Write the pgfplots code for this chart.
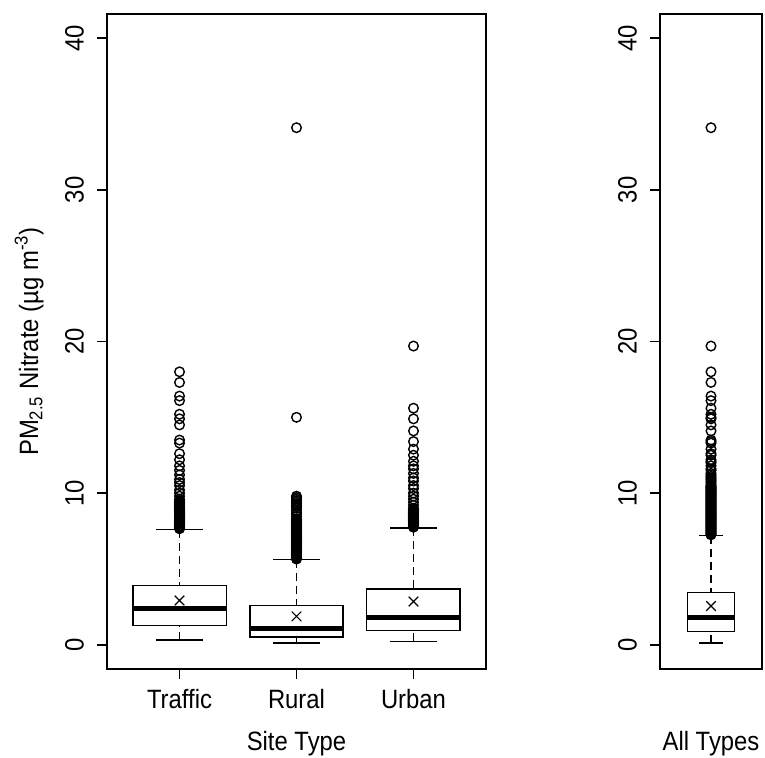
\documentclass[border=0pt]{standalone}
\usepackage{fontspec}
\setmainfont{Liberation Sans}[FakeStretch=0.9]
\usepackage{pgfplots}
\pgfplotsset{compat=1.18}
\usepgfplotslibrary{statistics}

\pgfplotsset{
  rstyle/.style={
    scale only axis,
    height=327.5bp,
    ymin=-1.6, ymax=41.6,
    ytick={0,10,20,30,40},
    tick align=outside,
    major tick length=5bp,
    xtick pos=bottom, ytick pos=left,
    axis line style={line width=0.8bp},
    every tick/.style={black, line width=0.8bp},
    /pgf/number format/assume math mode=true,
    yticklabel style={rotate=90, anchor=south},
    yticklabel shift=3bp,
    xticklabel style={anchor=north},
    xticklabel shift=1.5bp,
    xlabel style={at={(axis description cs:0.5,0)}, anchor=base, yshift=-40.5bp},
    ylabel shift=4bp,
    boxplot/draw direction=y,
    boxplot/every box/.style={line width=0.8bp},
    boxplot/every median/.style={line width=2.4bp},
    boxplot/draw/lower whisker/.code={%
      \draw[line width=0.8bp, dash pattern=on 4bp off 2.5bp]
        (boxplot box cs:\pgfplotsboxplotvalue{lower whisker},0.5) --
        (boxplot box cs:\pgfplotsboxplotvalue{lower quartile},0.5);
      \draw[line width=0.8bp]
        (boxplot whisker cs:\pgfplotsboxplotvalue{lower whisker},0) --
        (boxplot whisker cs:\pgfplotsboxplotvalue{lower whisker},1);
    },
    boxplot/draw/upper whisker/.code={%
      \draw[line width=0.8bp, dash pattern=on 4bp off 2.5bp]
        (boxplot box cs:\pgfplotsboxplotvalue{upper whisker},0.5) --
        (boxplot box cs:\pgfplotsboxplotvalue{upper quartile},0.5);
      \draw[line width=0.8bp]
        (boxplot whisker cs:\pgfplotsboxplotvalue{upper whisker},0) --
        (boxplot whisker cs:\pgfplotsboxplotvalue{upper whisker},1);
    },
  },
  outl/.style={black, solid, mark=o, mark size=2.4bp,
    mark options={solid, line width=0.7bp}},
  meanm/.style={only marks, mark=x, mark size=3.4bp, black,
    mark options={line width=0.6bp}},
}

\begin{document}
\begin{tikzpicture}[font=\fontsize{13.25bp}{15bp}\selectfont]
\useasboundingbox (0,0) rectangle (382.5bp,379bp);

\begin{axis}[rstyle,
  at={(53.5bp,44.5bp)}, anchor=south west,
  width=189.5bp,
  xmin=0.38, xmax=3.62,
  xtick={1,2,3}, xticklabels={Traffic,Rural,Urban},
  xlabel={Site Type},
  ylabel={PM\textsubscript{2.5} Nitrate (µg m\textsuperscript{-3})},
]
% Traffic
\addplot[outl, boxplot prepared={draw position=1,
  lower whisker=0.33, lower quartile=1.27, median=2.37,
  upper quartile=3.91, upper whisker=7.6,
  box extend=0.8, whisker extend=0.4}]
  table[row sep=\\, y index=0] {y\\
  7.65\\ 7.7\\ 7.75\\ 7.8\\ 7.85\\ 7.9\\ 7.95\\ 8\\ 8.05\\ 8.1\\ 8.15\\ 8.2\\ 8.25\\ 8.3\\ 8.35\\ 8.4\\ 8.45\\ 8.5\\ 8.55\\ 8.6\\
  8.65\\ 8.7\\ 8.75\\ 8.8\\ 8.85\\ 8.9\\ 8.95\\ 9\\ 9.05\\ 9.1\\ 9.15\\ 9.2\\ 9.25\\ 9.3\\ 9.35\\ 9.4\\ 9.45\\ 9.5\\
  9.6\\ 9.8\\ 10.0\\ 10.2\\ 10.5\\ 10.7\\ 10.9\\ 11.2\\ 11.5\\ 11.8\\ 12.2\\ 12.6\\ 13.3\\ 13.5\\ 14.5\\ 14.9\\ 15.2\\ 16.1\\ 16.4\\ 17.3\\ 18.0\\
  };
% Rural
\addplot[outl, boxplot prepared={draw position=2,
  lower whisker=0.11, lower quartile=0.5, median=1.05,
  upper quartile=2.59, upper whisker=5.62,
  box extend=0.8, whisker extend=0.4}]
  table[row sep=\\, y index=0] {y\\
  5.65\\ 5.7\\ 5.75\\ 5.8\\ 5.85\\ 5.9\\ 5.95\\ 6\\ 6.05\\ 6.1\\ 6.15\\ 6.2\\ 6.25\\ 6.3\\ 6.35\\ 6.4\\ 6.45\\ 6.5\\ 6.55\\ 6.6\\
  6.65\\ 6.7\\ 6.75\\ 6.8\\ 6.85\\ 6.9\\ 6.95\\ 7\\ 7.05\\ 7.1\\ 7.15\\ 7.2\\ 7.25\\ 7.3\\ 7.35\\ 7.4\\ 7.45\\ 7.5\\ 7.55\\ 7.6\\
  7.65\\ 7.7\\ 7.75\\ 7.8\\ 7.85\\ 7.9\\ 7.95\\ 8\\ 8.05\\ 8.1\\ 8.15\\ 8.2\\ 8.25\\ 8.3\\
  8.45\\ 8.6\\ 8.7\\ 8.85\\ 9.0\\ 9.1\\ 9.2\\ 9.3\\ 9.4\\ 9.5\\ 9.6\\ 9.7\\ 9.8\\ 15.0\\ 34.1\\
  };
% Urban
\addplot[outl, boxplot prepared={draw position=3,
  lower whisker=0.22, lower quartile=0.94, median=1.82,
  upper quartile=3.69, upper whisker=7.69,
  box extend=0.8, whisker extend=0.4}]
  table[row sep=\\, y index=0] {y\\
  7.75\\ 7.8\\ 7.85\\ 7.9\\ 7.95\\ 8\\ 8.05\\ 8.1\\ 8.15\\ 8.2\\ 8.25\\ 8.3\\ 8.35\\ 8.4\\ 8.45\\ 8.5\\ 8.55\\ 8.6\\ 8.65\\ 8.7\\
  8.75\\ 8.8\\ 8.85\\ 8.9\\ 8.95\\ 9.0\\
  9.2\\ 9.4\\ 9.6\\ 9.8\\ 10.0\\ 10.3\\ 10.5\\ 10.8\\ 11.0\\ 11.3\\ 11.6\\ 11.8\\ 12.1\\ 12.5\\ 12.9\\ 13.4\\ 14.1\\ 14.9\\ 15.6\\ 19.7\\
  };
% means
\addplot[meanm] coordinates {(1,2.92) (2,1.87) (3,2.85)};
\end{axis}

\begin{axis}[rstyle,
  at={(330bp,44.5bp)}, anchor=south west,
  width=51bp,
  xmin=0.46, xmax=1.54,
  xtick=\empty,
  xlabel={All Types},
]
\addplot[outl, boxplot prepared={draw position=1,
  lower whisker=0.12, lower quartile=0.87, median=1.8,
  upper quartile=3.45, upper whisker=7.2,
  box extend=0.5, whisker extend=0.25}]
  table[row sep=\\, y index=0] {y\\
  7.25\\ 7.3\\ 7.35\\ 7.4\\ 7.45\\ 7.5\\ 7.55\\ 7.6\\ 7.65\\ 7.7\\ 7.75\\ 7.8\\ 7.85\\ 7.9\\ 7.95\\ 8\\ 8.05\\ 8.1\\ 8.15\\ 8.2\\
  8.25\\ 8.3\\ 8.35\\ 8.4\\ 8.45\\ 8.5\\ 8.55\\ 8.6\\ 8.65\\ 8.7\\ 8.75\\ 8.8\\ 8.85\\ 8.9\\ 8.95\\ 9\\ 9.05\\ 9.1\\ 9.15\\ 9.2\\
  9.25\\ 9.3\\ 9.35\\ 9.4\\ 9.45\\ 9.5\\ 9.55\\ 9.6\\ 9.65\\ 9.7\\ 9.75\\ 9.8\\ 9.85\\ 9.9\\ 9.95\\ 10\\ 10.05\\ 10.1\\ 10.15\\ 10.2\\
  10.25\\ 10.3\\ 10.35\\ 10.4\\ 10.45\\ 10.5\\ 10.6\\ 10.7\\ 10.8\\ 10.9\\ 11.0\\ 11.1\\ 11.2\\ 11.3\\ 11.5\\ 11.6\\ 11.8\\ 12.0\\ 12.1\\ 12.2\\
  12.5\\ 12.6\\ 12.9\\ 13.3\\ 13.4\\ 13.5\\ 14.1\\ 14.5\\ 14.9\\ 15.0\\ 15.2\\ 15.6\\ 16.1\\ 16.4\\ 17.3\\ 18.0\\ 19.7\\ 34.1\\
  };
\addplot[meanm] coordinates {(1,2.55)};
\end{axis}
\end{tikzpicture}
\end{document}
